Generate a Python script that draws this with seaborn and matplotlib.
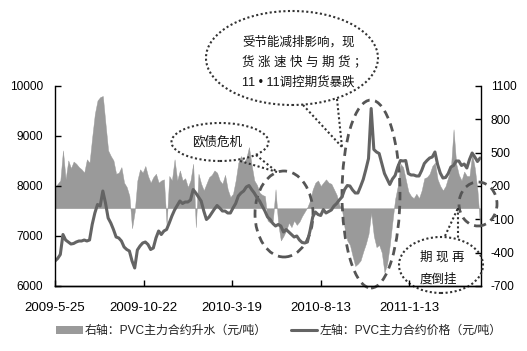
import numpy as np
import matplotlib
matplotlib.use('Agg')
import matplotlib.pyplot as plt
import seaborn as sns
from matplotlib.patches import Ellipse, Patch
from matplotlib.lines import Line2D

# ---------------- data ----------------
tick_days = [0, 100, 200, 300, 400]
tick_labels = ['2009-5-25', '2009-10-22', '2010-3-19', '2010-8-13', '2011-1-13']
left_ticks = [6000, 7000, 8000, 9000, 10000]
right_ticks = [-700, -400, -100, 200, 500, 800, 1100]
step_days = 3  # one sample every 3 trading days

# left axis: PVC main contract price (yuan/ton)
price = [6500, 6550, 6630, 7030, 6920, 6880, 6840, 6850, 6880, 6900,
         6900, 6920, 6900, 6920, 7230, 7460, 7630, 7600, 7900, 7660,
         7360, 7260, 7130, 6980, 6960, 6900, 6780, 6730, 6700, 6500,
         6360, 6720, 6800, 6860, 6880, 6830, 6730, 6760, 6960, 7100,
         7030, 7100, 7130, 7260, 7400, 7520, 7610, 7700, 7650, 7680,
         7680, 7720, 7930, 7860, 7780, 7700, 7500, 7330, 7380, 7460,
         7540, 7610, 7560, 7500, 7500, 7460, 7460, 7560, 7650, 7800,
         7860, 7900, 7980, 8010, 7930, 7860, 7770, 7700, 7600, 7500,
         7380, 7330, 7250, 7200, 7230, 7200, 7080, 7130, 7080, 7030,
         6980, 7000, 6920, 6870, 6860, 6880, 7110, 7380, 7480, 7430,
         7410, 7530, 7460, 7490, 7520, 7600, 7650, 7720, 7780, 7930,
         8010, 8000, 7920, 7860, 7860, 7990, 8130, 8330, 8550,
         9550, 8730, 8680, 8650, 8450, 8250, 8140, 8030, 8140, 8210,
         8380, 8510, 8500, 8510, 8250, 8220, 8220, 8200, 8200, 8310,
         8450, 8510, 8560, 8580, 8680, 8430, 8260, 8160, 8170, 8250,
         8380, 8410, 8500, 8500, 8410, 8440, 8360, 8530, 8660, 8580,
         8490, 8560]

# right axis: futures premium over spot (yuan/ton)
spread = [190, 220, 250, 520, 260, 430, 360, 420, 400, 370,
          350, 320, 440, 410, 640, 850, 970, 1000, 1010, 760,
          520, 470, 430, 310, 320, 370, 230, 190, 110, -180,
          -30, 250, 350, 320, 380, 290, 230, 280, 310, 230,
          250, 260, -150, 290, 250, 440, 250, 340, 250, 270,
          190, 250, 400, -170, 310, 220, 160, 220, 280, 300,
          340, 320, 250, 220, 300, 170, 100, 130, 250, 410,
          470, 410, 450, 550, 390, 250, 210, 140, 120, 110,
          -110, -130, -110, 170, -140, -290, -250, -200, -130, -170,
          -110, -150, -120, -70, -30, 10, 70, 170, 230, 250,
          200, 230, 260, 230, 220, 170, 120, 30, -10,
          -180, -290, -330, -430, -520, -500, -470, -390, -320, -230,
          -40, -250, -350, -330, -400, -580, -500, -330, -120, 80,
          200, 400, 370, 260, 150, 110, 90, 130, 90, 160,
          270, 280, 310, 380, 410, 260, 200, 160, 200, 280,
          360, 710, 400, 300, 250, 330, 290, 290, 490, 360,
          160, -170]

days = np.arange(len(price)) * step_days

legend_bar = '右轴：PVC主力合约升水（元/吨）'
legend_line = '左轴：PVC主力合约价格（元/吨）'

# ---------------- style ----------------
sns.set_theme(style='white')
plt.rcParams['font.family'] = ['Liberation Sans', 'Noto Sans CJK SC', 'DejaVu Sans']
plt.rcParams['axes.unicode_minus'] = False

W, H = 527, 351
fig = plt.figure(figsize=(W / 100, H / 100), dpi=100)
fig.patch.set_facecolor('white')


def fx(x):
    return x / W


def fy(y):
    return 1 - y / H


ax = fig.add_axes([fx(55), fy(286), 426 / W, 200 / H])
ax2 = ax.twinx()

bar_color = '#9a9a9a'
line_color = '#646464'

ax2.fill_between(days, spread, 0, color=bar_color, lw=0.3, edgecolor=bar_color)
sns.lineplot(x=days, y=price, ax=ax, color=line_color, lw=2.2)

ax.set_zorder(ax2.get_zorder() + 1)
ax.patch.set_visible(False)

ax.set_xlim(0, 481)
ax.set_ylim(6000, 10000)
ax2.set_ylim(-700, 1100)
ax.set_yticks(left_ticks)
ax2.set_yticks(right_ticks)
ax.set_xticks(tick_days)
ax.set_xticklabels(tick_labels)
ax.set_xlabel('')
ax.set_ylabel('')

for a in (ax, ax2):
    a.spines['top'].set_visible(False)
    for s in ('left', 'right', 'bottom'):
        a.spines[s].set_color('black')
        a.spines[s].set_linewidth(1.0)
ax.spines['right'].set_visible(False)
ax2.spines['left'].set_visible(False)

ax.tick_params(axis='x', direction='in', length=4, width=1, color='black',
               bottom=True, labelsize=9.5, pad=11.5, labelcolor='black')
ax.tick_params(axis='y', direction='in', length=4, width=1, color='black',
               left=True, labelsize=8.6, pad=8.5, labelcolor='black')
ax2.tick_params(axis='y', direction='in', length=4, width=1, color='black',
                right=True, labelsize=8.6, pad=7, labelcolor='black')

# ---------------- legend ----------------
handles = [Patch(facecolor=bar_color, edgecolor='none', label=legend_bar),
           Line2D([], [], color=line_color, lw=2.2, label=legend_line)]
fig.legend(handles=handles, loc='center', bbox_to_anchor=(fx(279), fy(331)),
           ncol=2, frameon=False, fontsize=8.6, handlelength=2.2,
           handletextpad=0.2, columnspacing=2.0, labelcolor='#222222')

# ---------------- annotations ----------------
dot = dict(color='#333333', lw=1.5, linestyle=(0, (1, 1.2)))
dash = dict(color='#555555', lw=2.0, linestyle=(0, (3, 2)))


def ellipse(cx, cy, w, h, style):
    e = Ellipse((fx(cx), fy(cy)), w / W, h / H, transform=fig.transFigure,
                fill=False, **style)
    fig.add_artist(e)


def seg(pts, style):
    xs = [fx(p[0]) for p in pts]
    ys = [fy(p[1]) for p in pts]
    fig.add_artist(Line2D(xs, ys, transform=fig.transFigure, **style))


# big callout at the top
ellipse(292, 58, 172, 94, dot)
seg([(303, 105), (342, 147)], dot)
seg([(337, 99), (342, 147)], dot)
fig.text(fx(242), fy(42), '受节能减排影响，现', fontsize=9, va='center', ha='left',
         color='#111111')
fig.text(fx(242), fy(62), '货 涨 速 快 与 期 货 ；', fontsize=9, va='center', ha='left',
         color='#111111')
fig.text(fx(242), fy(82), '11 • 11调控期货暴跌', fontsize=9, va='center', ha='left',
         color='#111111')

# 欧债危机 callout
ellipse(220, 142, 97, 38, dot)
seg([(240, 161), (277, 172)], dot)
seg([(256, 155), (277, 172)], dot)
fig.text(fx(217), fy(142), '欧债危机', fontsize=9, va='center', ha='center',
         color='#111111')

# 期现再度倒挂 callout
ellipse(441, 265, 84, 56, dot)
seg([(445, 236), (458, 208)], dot)
seg([(458, 208), (458, 238)], dot)
fig.text(fx(420), fy(257), '期 现 再', fontsize=9, va='center', ha='left',
         color='#111111')
fig.text(fx(420), fy(279), '度倒挂', fontsize=9, va='center', ha='left',
         color='#111111')

# dashed highlight ellipses
ellipse(284, 214, 58, 86, dash)
ellipse(371, 194, 58, 188, dash)
ellipse(478, 204, 38, 44, dash)

fig.savefig('out.png', dpi=100, facecolor='white')
